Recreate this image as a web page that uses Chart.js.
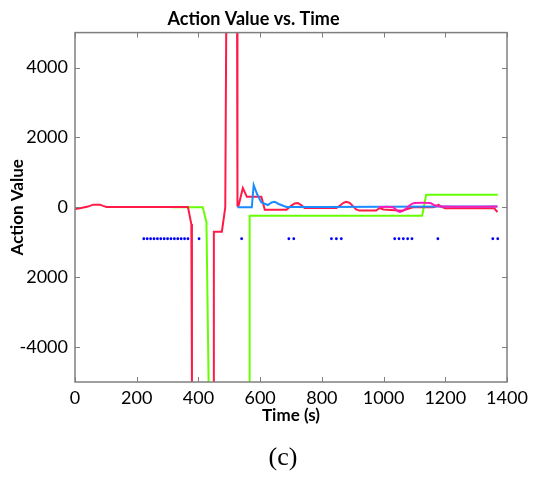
<!doctype html>
<html lang="en">
<head>
<meta charset="utf-8">
<title>Action Value vs. Time</title>
<script src="https://cdn.jsdelivr.net/npm/chart.js@4.4.0/dist/chart.umd.min.js"></script>
<style>
  html, body { margin: 0; padding: 0; background: #fff; }
  #wrap { position: relative; width: 535px; height: 483px; }
  #caption {
    position: absolute; left: 233px; width: 100px; top: 442px;
    text-align: center; font-family: "Liberation Serif", serif; font-size: 26px; color: #000;
  }
</style>
</head>
<body>
<div id="wrap">
  <canvas id="chart" width="535" height="483"></canvas>
  <div id="caption">(c)</div>
</div>
<script>
// values (time in s, action value)
const redTime = [0, 16, 42, 59, 81, 91, 102, 200, 300, 366, 377, 379, 380, 449, 450, 476, 487, 490, 491, 525, 526, 527, 530, 544, 557, 604, 615, 685, 700, 712, 722, 734, 744, 847, 860, 870, 879, 890, 900, 911, 922, 976, 987, 1000, 1060, 1095, 1160, 1170, 1178, 1186, 1200, 1359, 1369];
const redValue = [-50, -30, 20, 75, 75, 40, 10, 10, 10, 10, -480, -5000, -6000, -6000, -700, -700, 0, 5000, 6000, 6000, 5000, 45, 45, 550, 300, 300, -70, -70, 40, 110, 120, 60, -20, -20, 60, 130, 160, 130, 40, -60, -95, -95, -20, -60, -100, 0, 0, 30, 75, 20, -30, -30, -140];

const blueTime = [526, 573, 579, 590, 604, 625, 637, 647, 660, 685, 800, 1000, 1200, 1369];
const blueValue = [0, 0, 640, 380, 140, 65, 140, 160, 95, 10, 10, 15, 20, 20];

const pinkTime = [985, 1030, 1045, 1055, 1070, 1085, 1100, 1150, 1165, 1190, 1369];
const pinkValue = [10, 0, -100, -130, -60, 60, 120, 120, 60, 20, 20];

const greenTime = [313, 414, 426, 433, 434, 565, 566, 1125, 1138, 1370];
const greenValue = [0, 0, -430, -5000, -6000, -6000, -240, -240, 360, 360];

const dotTime = [223, 234, 245, 256, 267, 278, 289, 300, 311, 322, 333, 344, 355, 366, 402, 540, 693, 709, 831, 847, 863, 1036, 1050, 1064, 1078, 1092, 1176, 1354, 1370];
const dotValue = -900;

const xTicks = [0, 200, 400, 600, 800, 1000, 1200, 1400];
const xTickLabels = ['0', '200', '400', '600', '800', '1000', '1200', '1400'];
const yTicks = [-4000, -2000, 0, 2000, 4000];
const yTickLabels = ['-4000', '2000', '0', '2000', '4000'];

const pts = (t, v) => t.map((x, i) => ({ x: x, y: Array.isArray(v) ? v[i] : v }));

const frameTicks = {
  id: 'frameTicks',
  afterDatasetsDraw(chart) {
    const { ctx, chartArea: a, scales: { x, y } } = chart;
    ctx.save();
    ctx.strokeStyle = '#7f7f7f';
    ctx.lineWidth = 1;
    ctx.beginPath();
    xTicks.forEach(v => {
      const px = Math.round(x.getPixelForValue(v)) + 0.5;
      ctx.moveTo(px, a.bottom); ctx.lineTo(px, a.bottom - 5);
      ctx.moveTo(px, a.top); ctx.lineTo(px, a.top + 5);
    });
    yTicks.forEach(v => {
      const py = Math.round(y.getPixelForValue(v)) + 0.5;
      ctx.moveTo(a.left, py); ctx.lineTo(a.left + 5, py);
      ctx.moveTo(a.right, py); ctx.lineTo(a.right - 5, py);
    });
    ctx.stroke();
    ctx.lineWidth = 1.5;
    ctx.strokeRect(a.left, a.top, a.right - a.left, a.bottom - a.top);
    ctx.restore();
  }
};

const font = 'Lato, "DejaVu Sans", sans-serif';

new Chart(document.getElementById('chart'), {
  type: 'line',
  data: {
    datasets: [
      { data: pts(dotTime, dotValue), showLine: false, pointRadius: 1.4, pointBackgroundColor: '#0000ff', pointBorderWidth: 0 },
      { data: pts(pinkTime, pinkValue), borderColor: '#ff1ab8', borderWidth: 2, pointRadius: 0, tension: 0.3 },
      { data: pts(blueTime, blueValue), borderColor: '#1a8cff', borderWidth: 2, pointRadius: 0 },
      { data: pts(redTime, redValue), borderColor: '#ff1a47', borderWidth: 2, pointRadius: 0 },
      { data: pts(greenTime, greenValue), borderColor: '#66ff00', borderWidth: 2, pointRadius: 0 }
    ]
  },
  options: {
    responsive: false,
    animation: false,
    layout: { padding: { left: 0, right: 28, top: 0, bottom: 51 } },
    plugins: {
      legend: { display: false },
      tooltip: { enabled: false },
      title: {
        display: true, text: 'Action Value vs. Time', color: '#000',
        font: { family: font, size: 18, weight: 'bold' },
        padding: { top: 8, bottom: 3 }
      }
    },
    scales: {
      x: {
        type: 'linear', min: 0, max: 1400,
        afterBuildTicks: s => { s.ticks = xTicks.map(v => ({ value: v })); },
        afterFit: s => { s.height = 50; },
        grid: { display: false, drawTicks: false },
        border: { display: false },
        ticks: {
          color: '#000', padding: 5, maxRotation: 0, font: { family: font, size: 18 },
          callback: v => xTickLabels[xTicks.indexOf(v)]
        },
        title: { display: true, text: 'Time (s)', color: '#000', padding: { bottom: 6 }, font: { family: font, size: 17, weight: 'bold' } }
      },
      y: {
        type: 'linear', min: -5000, max: 5000,
        afterBuildTicks: s => { s.ticks = yTicks.map(v => ({ value: v })); },
        afterFit: s => { s.width = 75; },
        grid: { display: false, drawTicks: false },
        border: { display: false },
        ticks: {
          color: '#000', padding: 7, font: { family: font, size: 18 },
          callback: v => yTickLabels[yTicks.indexOf(v)]
        },
        title: { display: true, text: 'Action Value', color: '#000', padding: { top: 7 }, font: { family: font, size: 17, weight: 'bold' } }
      }
    }
  },
  plugins: [frameTicks]
});
</script>
</body>
</html>
